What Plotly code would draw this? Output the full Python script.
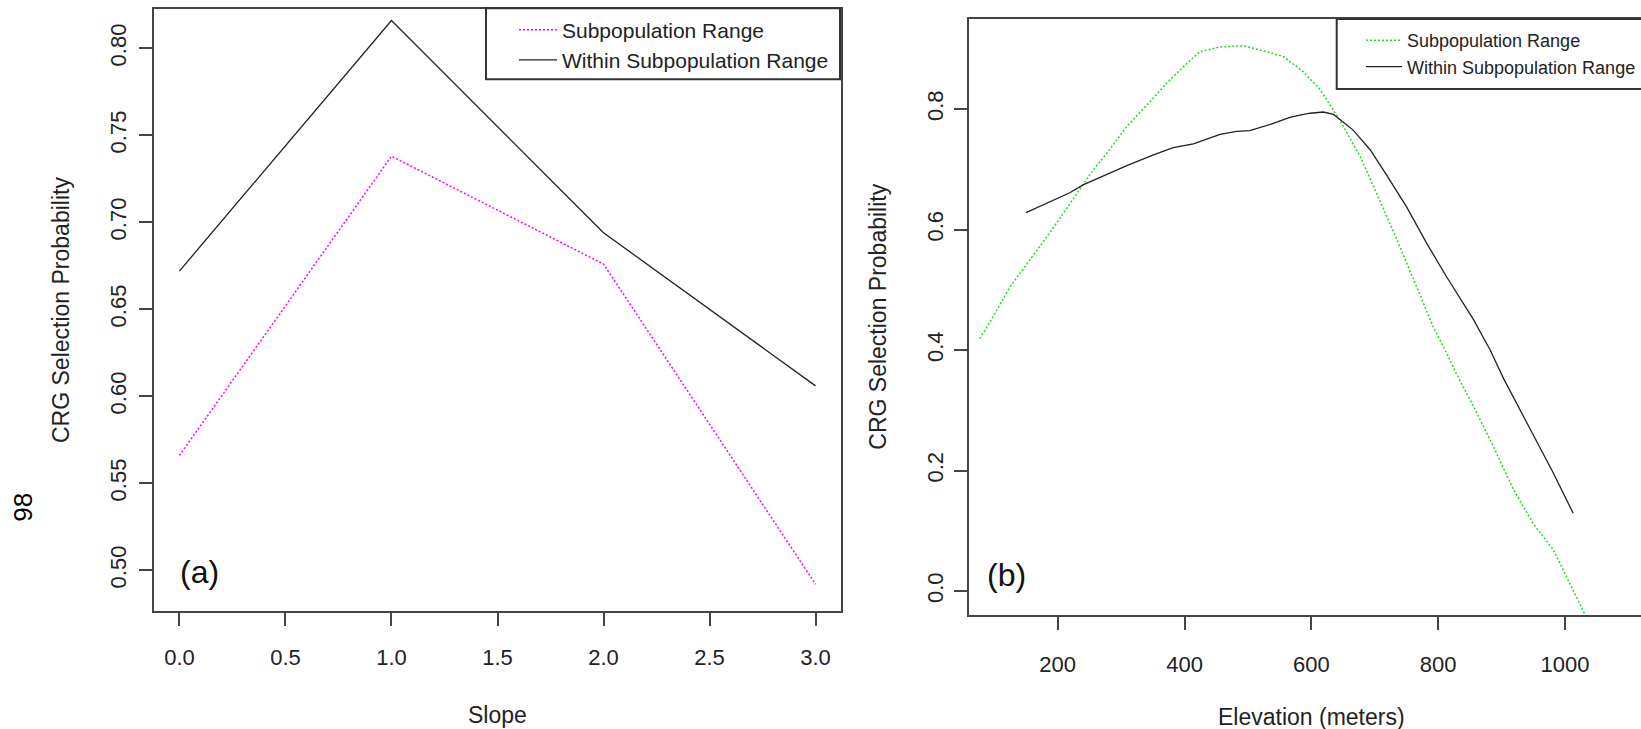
import plotly.graph_objects as go

# ---- data ----
slope = [0, 1, 2, 3]
slope_subpop = [0.566, 0.738, 0.676, 0.492]
slope_within = [0.672, 0.816, 0.694, 0.606]

elev_subpop_x = [77, 98, 125, 156, 183, 209, 235, 256, 277, 309, 341, 372, 404, 424, 456,
                 493, 530, 556, 587, 614, 643, 677, 703, 735, 766, 792, 811, 829, 856, 887,
                 919, 950, 982, 1008, 1032]
elev_subpop_y = [0.419, 0.455, 0.505, 0.549, 0.588, 0.627, 0.668, 0.699, 0.726, 0.771, 0.807,
                 0.843, 0.876, 0.895, 0.903, 0.905, 0.895, 0.887, 0.862, 0.832, 0.785, 0.721,
                 0.660, 0.583, 0.505, 0.439, 0.400, 0.360, 0.306, 0.240, 0.168, 0.112, 0.068,
                 0.013, -0.040]

elev_within_x = [150, 204, 219, 240, 272, 309, 351, 382, 414, 456, 482, 503, 540, 566, 582,
                 598, 619, 635, 666, 693, 719, 750, 782, 813, 856, 882, 903, 940, 982, 1013]
elev_within_y = [0.628, 0.654, 0.661, 0.674, 0.689, 0.706, 0.724, 0.736, 0.742, 0.758, 0.763,
                 0.764, 0.776, 0.786, 0.790, 0.793, 0.795, 0.791, 0.765, 0.732, 0.690, 0.638,
                 0.577, 0.522, 0.450, 0.400, 0.353, 0.278, 0.195, 0.129]

slope_ticks = [0, 0.5, 1, 1.5, 2, 2.5, 3]
elev_ticks = [200, 400, 600, 800, 1000]

# ---- layout constants ----
W, H = 1641, 729
FONT = "Liberation Sans, Arial, sans-serif"
TXT = "#222222"
AX = "#444444"


def px(x):
    return x / W


def py(y):
    return 1 - y / H


fig = go.Figure()

fig.add_trace(go.Scatter(x=slope, y=slope_subpop, mode="lines", name="Subpopulation Range",
                         line=dict(color="#FF00FF", width=1.5, dash="2px,2px"),
                         xaxis="x", yaxis="y", legend="legend"))
fig.add_trace(go.Scatter(x=slope, y=slope_within, mode="lines", name="Within Subpopulation Range",
                         line=dict(color="#222222", width=1.3),
                         xaxis="x", yaxis="y", legend="legend"))
fig.add_trace(go.Scatter(x=elev_subpop_x, y=elev_subpop_y, mode="lines", name="Subpopulation Range",
                         line=dict(color="#1EDC1E", width=1.5, dash="2px,2px"),
                         xaxis="x2", yaxis="y2", legend="legend2"))
fig.add_trace(go.Scatter(x=elev_within_x, y=elev_within_y, mode="lines", name="Within Subpopulation Range",
                         line=dict(color="#222222", width=1.3),
                         xaxis="x2", yaxis="y2", legend="legend2"))

axis_common = dict(showgrid=False, zeroline=False, showline=True, linecolor=AX, linewidth=2,
                   ticks="outside", ticklen=13, tickwidth=1.5, tickcolor=AX,
                   tickfont=dict(family=FONT, size=22, color=TXT))

fig.update_layout(
    width=W, height=H, autosize=False,
    margin=dict(l=0, r=0, t=0, b=0),
    paper_bgcolor="white", plot_bgcolor="white",
    font=dict(family=FONT, color=TXT),
    xaxis=dict(domain=[px(154), px(841)], range=[-0.12, 3.12], tickvals=slope_ticks,
               tickformat=".1f", mirror=True, anchor="y", ticklabelstandoff=13, **axis_common),
    yaxis=dict(domain=[py(610.7), py(9)], range=[0.4768, 0.8226], dtick=0.05, tick0=0,
               tickformat=".2f", tickangle=-90, mirror=True, anchor="x",
               ticklabelstandoff=4, **axis_common),
    xaxis2=dict(domain=[px(969), 1.0], range=[60.1, 1119.9], tickvals=elev_ticks,
                mirror=True, anchor="y2", ticklabelstandoff=16, **axis_common),
    yaxis2=dict(domain=[py(615), py(19)], range=[-0.0398, 0.9494], dtick=0.2, tick0=0,
                tickformat=".1f", tickangle=-90, mirror=False, anchor="x2",
                ticklabelstandoff=2, **axis_common),
    legend=dict(x=px(514), xanchor="left", y=py(9.5), yanchor="top",
                bgcolor="rgba(0,0,0,0)", borderwidth=0,
                font=dict(family=FONT, size=21, color=TXT), itemwidth=38),
    legend2=dict(x=px(1361), xanchor="left", y=py(22), yanchor="top",
                 bgcolor="rgba(0,0,0,0)", borderwidth=0,
                 font=dict(family=FONT, size=18, color=TXT), itemwidth=36),
)

# legend frames (as in the original R legend boxes)
fig.add_shape(type="rect", xref="paper", yref="paper",
              x0=px(486), x1=px(840), y0=py(79.3), y1=py(8.3),
              line=dict(color="#333333", width=2), fillcolor="white", layer="above")
fig.add_shape(type="rect", xref="paper", yref="paper",
              x0=px(1336.7), x1=px(1720), y0=py(89), y1=py(19),
              line=dict(color="#333333", width=2), fillcolor="white", layer="above")

annots = [
    dict(text="Slope", x=px(497.5), y=py(715), size=23, angle=0),
    dict(text="CRG Selection Probability", x=px(61), y=py(310), size=23, angle=-90),
    dict(text="Elevation (meters)", x=px(1311), y=py(717), size=23, angle=0),
    dict(text="CRG Selection Probability", x=px(877.7), y=py(317), size=23, angle=-90),
    dict(text="(a)", x=px(199), y=py(571.7), size=32, angle=0, color="#111111"),
    dict(text="(b)", x=px(1006.3), y=py(575), size=32, angle=0, color="#111111"),
    dict(text="98", x=px(22.7), y=py(507), size=26, angle=-90, color="#000000"),
]
for a in annots:
    fig.add_annotation(text=a["text"], x=a["x"], y=a["y"], xref="paper", yref="paper",
                       xanchor="center", yanchor="middle", showarrow=False,
                       textangle=a["angle"],
                       font=dict(family=FONT, size=a["size"], color=a.get("color", TXT)))

fig.write_html("out.html")
